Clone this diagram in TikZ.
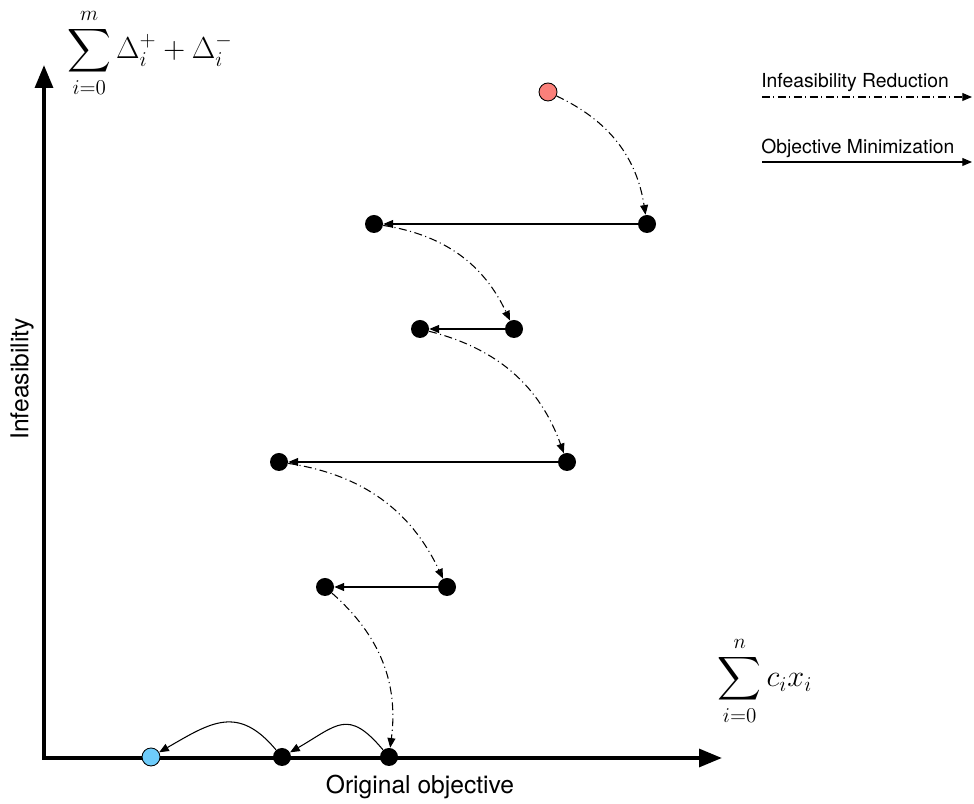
\documentclass[tikz,border=0pt]{standalone}
\usepackage{amsmath}
\usepackage{fontspec}
\setsansfont{TeX Gyre Heros}
\usetikzlibrary{arrows.meta, positioning}

\definecolor{startred}{RGB}{250,128,122}
\definecolor{goalblue}{RGB}{110,204,250}

\begin{document}
\begin{tikzpicture}[
    point/.style={circle, fill=black, minimum size=0.36cm, inner sep=0pt},
    start/.style={circle, draw=black, fill=startred, minimum size=0.36cm, inner sep=0pt, line width=0.5pt},
    goal/.style={circle, draw=black, fill=goalblue, minimum size=0.36cm, inner sep=0pt, line width=0.5pt},
    axis/.style={draw=black, line width=2.3pt, {Triangle[length=13pt, width=10pt]}-{Triangle[length=13pt, width=10pt]}},
    objline/.style={draw=black, line width=0.6pt, -{Triangle[length=5.5pt, width=4.5pt]}},
    infline/.style={draw=black, line width=0.6pt, dash pattern=on 4.5pt off 2pt on 0.6pt off 2pt, -{Triangle[length=5.5pt, width=4.5pt]}},
    axlabel/.style={font=\sffamily\fontsize{14}{16}\selectfont},
    mathlabel/.style={font=\fontsize{18}{21}\selectfont},
    legend/.style={font=\sffamily\fontsize{11}{13}\selectfont, inner sep=0pt, anchor=base west}
]
    \useasboundingbox (0,0) rectangle (19.48,16.08);

    % Axes
    \coordinate (origin) at (0.88,0.92);
    \coordinate (ytip) at (0.88,14.78);
    \coordinate (xtip) at (14.44,0.92);
    \path [axis] (ytip) -- (origin) -- (xtip);

    \node [axlabel, rotate=90] (ylabel) at (0.44,8.5) {Infeasibility};
    \node [axlabel] (xlabel) at (8.4,0.34) {Original objective};
    \node [mathlabel] (ysum) at (3.0,15.02) {$\displaystyle\sum_{i=0}^{m}\Delta_i^+ + \Delta_i^-$};
    \node [mathlabel] (xsum) at (15.3,2.46) {$\displaystyle\sum_{i=0}^{n}c_ix_i$};

    % Iterates
    \node [start] (s0) at (10.96,14.24) {};
    \node [point] (p1) at (12.94,11.60) {};
    \node [point] (p2) at (7.48,11.60) {};
    \node [point] (p3) at (10.28,9.50) {};
    \node [point] (p4) at (8.40,9.50) {};
    \node [point] (p5) at (11.34,6.84) {};
    \node [point] (p6) at (5.58,6.84) {};
    \node [point] (p7) at (8.94,4.34) {};
    \node [point] (p8) at (6.50,4.34) {};
    \node [point] (p9) at (7.78,0.94) {};
    \node [point] (p10) at (5.64,0.94) {};
    \node [goal] (g) at (3.02,0.94) {};

    % Steps
    \path [infline] (s0) to[bend left=28] (p1);
    \path [objline] (p1) -- (p2);
    \path [infline] (p2) to[bend left=28] (p3);
    \path [objline] (p3) -- (p4);
    \path [infline] (p4) to[bend left=28] (p5);
    \path [objline] (p5) -- (p6);
    \path [infline] (p6) to[bend left=28] (p7);
    \path [objline] (p7) -- (p8);
    \path [infline] (p8) to[bend left=28] (p9);
    \path [objline] (p9) to[out=130, in=30, looseness=1.5] (p10);
    \path [objline] (p10) to[out=130, in=30, looseness=1.3] (g);

    % Legend
    \coordinate (irA) at (15.24,14.14);
    \coordinate (irB) at (19.44,14.14);
    \coordinate (omA) at (15.24,12.84);
    \coordinate (omB) at (19.44,12.84);
    \node [legend] (irtext) at (15.22,14.32) {Infeasibility Reduction};
    \node [legend] (omtext) at (15.22,13.0) {Objective Minimization};
    \path [infline] (irA) -- (irB);
    \path [objline] (omA) -- (omB);

\end{tikzpicture}
\end{document}
